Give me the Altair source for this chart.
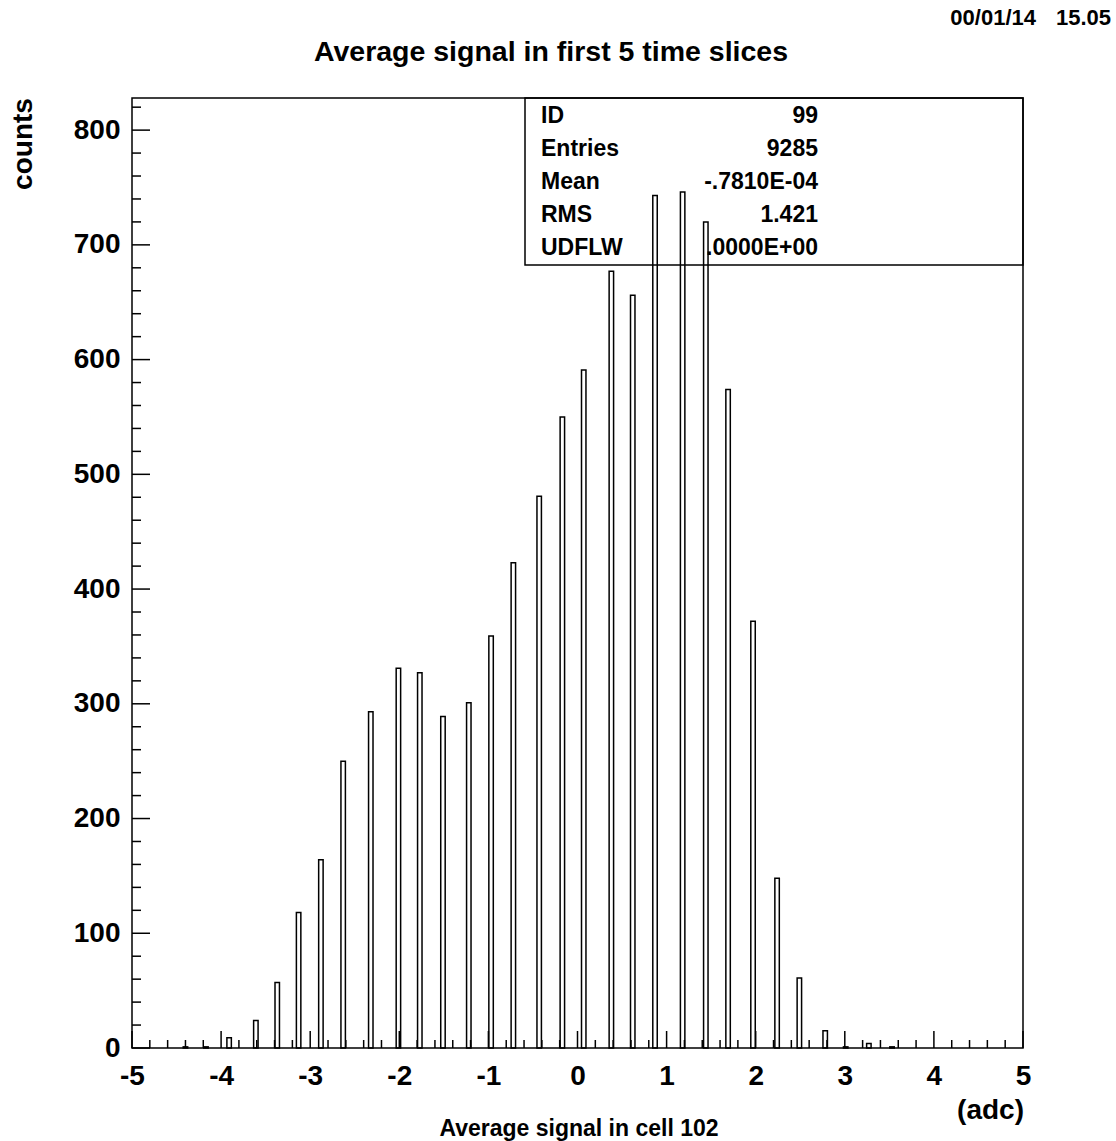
import altair as alt
import pandas as pd
import numpy as np

# ---- data ----
bin_centers = [-4.40, -4.17, -3.91, -3.61, -3.37, -3.13, -2.88, -2.63, -2.32, -2.01,
               -1.77, -1.51, -1.22, -0.97, -0.72, -0.43, -0.17, 0.07, 0.38, 0.62,
               0.87, 1.18, 1.44, 1.69, 1.97, 2.24, 2.49, 2.78, 3.01, 3.27, 3.53]
counts = [1, 1, 9, 24, 57, 118, 164, 250, 293, 331,
          327, 289, 301, 359, 423, 481, 550, 591, 677, 656,
          743, 746, 720, 574, 372, 148, 61, 15, 1, 4, 1]
bin_width = 0.05

x_tick_labels = [-5, -4, -3, -2, -1, 0, 1, 2, 3, 4, 5]
y_tick_labels = [0, 100, 200, 300, 400, 500, 600, 700, 800]

stat_labels = ["ID", "Entries", "Mean", "RMS", "UDFLW"]
stat_values = ["99", "9285", "-.7810E-04", "1.421", ".0000E+00"]

FONT = "Liberation Sans"
W, H = 891, 950

df = pd.DataFrame({
    "x0": [c - bin_width / 2 for c in bin_centers],
    "x1": [c + bin_width / 2 for c in bin_centers],
    "n": counts,
})

xs = alt.Scale(domain=[-5, 5], nice=False, zero=False)
ys = alt.Scale(domain=[0, 828], nice=False, zero=False)

x_axis = alt.Axis(values=x_tick_labels, ticks=False, tickSize=0, domain=False, grid=False,
                  labelFont=FONT, labelFontSize=28, labelFontWeight="bold",
                  labelColor="black", labelPadding=14, labelFlush=False, title=None,
                  labelExpr="datum.value < 0 ? '-' + abs(datum.value) : '' + datum.value")

bars = alt.Chart(df).mark_rect(fillOpacity=0, stroke="black", strokeWidth=1.5).encode(
    x=alt.X("x0:Q", scale=xs, title=None, axis=x_axis),
    x2="x1:Q",
    y=alt.Y("n:Q", scale=ys, title=None,
            axis=alt.Axis(values=y_tick_labels, ticks=False, tickSize=0, domain=False, grid=False,
                          labelFont=FONT, labelFontSize=28, labelFontWeight="bold",
                          labelColor="black", labelPadding=12, labelFlush=False)),
    y2=alt.datum(0),
)

# axis ticks drawn inward
xt_all = np.round(np.arange(-5, 5.0001, 0.2), 2)
xt_major = pd.DataFrame({"x0": [v for v in xt_all if abs(v - round(v)) < 1e-6]})
xt_minor = pd.DataFrame({"x0": [v for v in xt_all if abs(v - round(v)) >= 1e-6]})
yt_all = np.arange(0, 821, 20)
yt_major = pd.DataFrame({"t": [v for v in yt_all if v % 100 == 0]})
yt_minor = pd.DataFrame({"t": [v for v in yt_all if v % 100 != 0]})

def xticks(d, length):
    return alt.Chart(d).mark_rule(color="black", strokeWidth=1.5).encode(
        x=alt.X("x0:Q", scale=xs, title=None, axis=x_axis), y=alt.value(H), y2=alt.value(H - length))

def yticks(d, length):
    return alt.Chart(d).mark_rule(color="black", strokeWidth=1.5).encode(
        y=alt.Y("t:Q", scale=ys, axis=None), x=alt.value(0), x2=alt.value(length))

# statistics box
box = alt.Chart(pd.DataFrame({"a": [0]})).mark_rect(
    fillOpacity=0, stroke="black", strokeWidth=1.5).encode(
    x=alt.value(393), x2=alt.value(W), y=alt.value(0), y2=alt.value(167))

stats = pd.DataFrame({"label": stat_labels, "value": stat_values})
row_scale = alt.Scale(type="point", domain=stat_labels, range=[18, 150], padding=0)
stat_left = alt.Chart(stats).mark_text(font=FONT, fontSize=23, fontWeight="bold", align="left",
                                       baseline="middle", color="black").encode(
    x=alt.value(409), y=alt.Y("label:N", scale=row_scale, axis=None), text="label:N")
stat_right = alt.Chart(stats).mark_text(font=FONT, fontSize=23, fontWeight="bold", align="right",
                                        baseline="middle", color="black").encode(
    x=alt.value(686), y=alt.Y("label:N", scale=row_scale, axis=None), text="value:N")

def label(txt, x, y, size, align="center", baseline="middle", angle=0):
    kw = dict(font=FONT, fontSize=size, fontWeight="bold", align=align, baseline=baseline,
              color="black", text=txt)
    if angle:
        kw["angle"] = angle
    return alt.Chart(pd.DataFrame({"a": [0]})).mark_text(**kw).encode(
        x=alt.value(x), y=alt.value(y))

title = label("Average signal in first 5 time slices", 419, -46, 28.5)
date1 = label("00/01/14", 904, -80, 22, align="right")
date2 = label("15.05", 979, -80, 22, align="right")
ylab = label("counts", -100, 46, 28, baseline="alphabetic", angle=270)
unit = label("(adc)", 892, 1013, 28, align="right")
xlab = label("Average signal in cell 102", 447, 1031, 23)

chart = alt.layer(
    box, bars,
    xticks(xt_major, 17), xticks(xt_minor, 8),
    yticks(yt_major, 18), yticks(yt_minor, 9),
    stat_left, stat_right,
    title, date1, date2, ylab, unit, xlab,
).resolve_scale(y="independent").properties(
    width=W, height=H,
    autosize=alt.AutoSizeParams(type="none"),
    padding={"left": 132, "top": 98, "right": 93, "bottom": 93},
    background="white",
).configure_view(stroke="black", strokeWidth=1.5)

chart.save("out.html", embed_options={"renderer": "svg", "actions": False})
